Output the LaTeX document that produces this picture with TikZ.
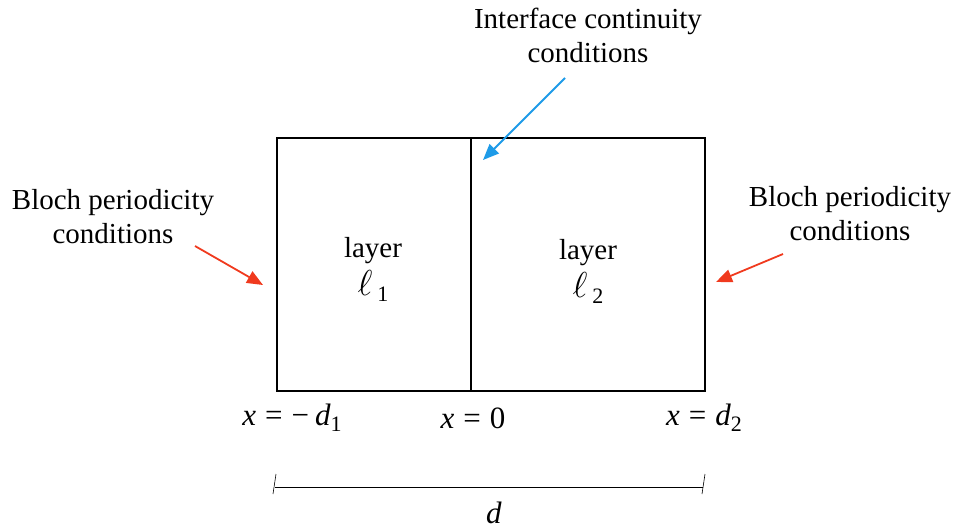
\documentclass[tikz,border=0pt]{standalone}
\usepackage{fontspec}
\setmainfont{Liberation Serif}
\usetikzlibrary{arrows.meta}
\definecolor{redarr}{RGB}{240,58,30}
\definecolor{bluearr}{RGB}{30,155,232}
\newcommand{\sbs}[1]{\raisebox{-6pt}{\fontsize{22}{22}\selectfont #1}}
\newcommand{\ellsym}{\scalebox{1.45}{$\ell$}}
\begin{document}
\begin{tikzpicture}[x=1pt,y=-1pt,
  lbl/.style={font=\fontsize{29}{34}\selectfont, align=center, inner sep=0pt},
  mlbl/.style={font=\fontsize{31}{34}\selectfont, inner sep=0pt},
  arr/.style={line width=1.8pt, -{Triangle[length=16pt,width=13pt]}}]
\useasboundingbox (0,0) rectangle (958,531);
% box
\coordinate (tl) at (277,138);
\coordinate (br) at (705,391);
\draw[line width=1.4pt] (tl) rectangle (br);
\coordinate (mt) at (471,138);
\coordinate (mb) at (471,391);
\draw[line width=1.4pt] (mt) -- (mb);
% labels
\node[lbl] (ifc) at (588,35) {Interface continuity\\conditions};
\node[lbl] (bl) at (113,217) {Bloch periodicity\\conditions};
\node[lbl] (br2) at (850,214) {Bloch periodicity\\conditions};
\node[lbl] (l1) at (373,269) {layer\\[4pt]\ellsym\,\sbs{1}};
\node[lbl] (l2) at (588,271) {layer\\[4pt]\ellsym\,\sbs{2}};
% arrows
\coordinate (a1s) at (565,78);  \coordinate (a1e) at (483,160);
\coordinate (a2s) at (195,246); \coordinate (a2e) at (263,285);
\coordinate (a3s) at (783,254); \coordinate (a3e) at (716,282);
\draw[arr, draw=bluearr, fill=bluearr] (a1s) -- (a1e);
\draw[arr, draw=redarr, fill=redarr] (a2s) -- (a2e);
\draw[arr, draw=redarr, fill=redarr] (a3s) -- (a3e);
% x labels
\node[mlbl] (xm) at (292,418) {\textit{x}\hspace{9pt}=\hspace{9pt}−\hspace{6pt}\textit{d}\sbs{1}};
\node[mlbl] (x0) at (473,418) {\textit{x}\hspace{9pt}=\hspace{9pt}0};
\node[mlbl] (xp) at (704,418) {\textit{x}\hspace{9pt}=\hspace{9pt}\textit{d}\sbs{2}};
% dimension line
\coordinate (dl) at (275,487);
\coordinate (dr) at (703,487);
\draw[line width=0.6pt] (dl) -- (dr);
\draw[line width=0.6pt] (276,474) -- (273,494);
\draw[line width=0.6pt] (705,474) -- (702,494);
\node[mlbl] (d) at (494,513) {\textit{d}};
\end{tikzpicture}
\end{document}
